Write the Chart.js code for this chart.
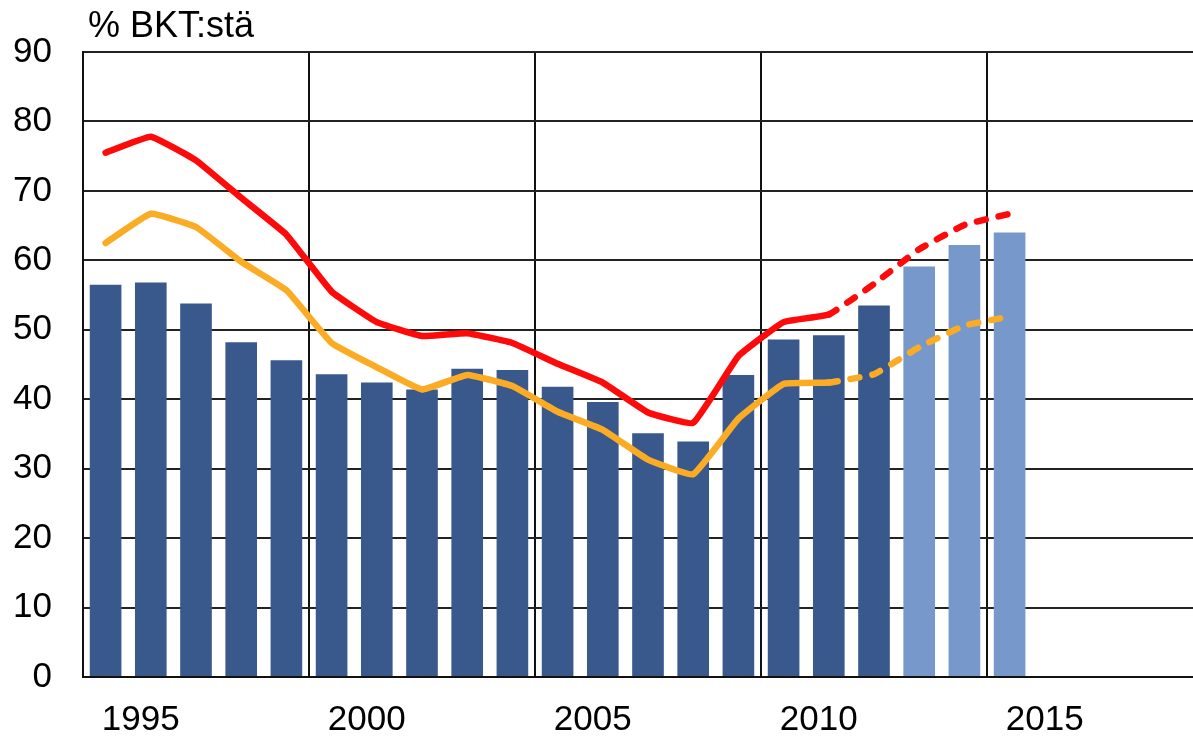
<!DOCTYPE html>
<html>
<head>
<meta charset="utf-8">
<script src="https://cdn.jsdelivr.net/npm/chart.js@4/dist/chart.umd.min.js"></script>
<style>
  html, body { margin: 0; padding: 0; background: #fff; overflow: hidden; }
  #wrap { position: relative; width: 1213px; height: 737px; }
</style>
</head>
<body>
<div id="wrap"><canvas id="chart"></canvas></div>
<script>
// Years on the category axis (plot runs past the right edge of the picture)
const YEARS = [1994, 1995, 1996, 1997, 1998, 1999, 2000, 2001, 2002, 2003, 2004, 2005,
               2006, 2007, 2008, 2009, 2010, 2011, 2012, 2013, 2014, 2015, 2016, 2017, 2018];

// Bars: debt, % of GDP (2012-2014 are forecasts)
const DEBT = [56.5, 56.8, 53.8, 48.2, 45.6, 43.6, 42.4, 41.4, 44.4, 44.2, 41.8, 39.6,
              35.1, 33.9, 43.5, 48.6, 49.2, 53.5, 59.1, 62.2, 64.0, null, null, null, null];

// Red line
const RED_LINE = [75.5, 77.8, 74.4, 69.0, 63.7, 55.5, 51.1, 49.1, 49.5, 48.1, 45.1, 42.4,
                  38.1, 36.6, 46.2, 51.1, 52.2, 56.6, 61.6, 65.1, 66.7, null, null, null, null];

// Orange line
const ORANGE_LINE = [62.5, 66.7, 64.8, 59.8, 55.7, 48.1, 44.6, 41.4, 43.5, 41.9, 38.2, 35.6,
                     31.3, 29.2, 37.2, 42.2, 42.4, 43.6, 47.5, 50.6, 51.9, null, null, null, null];

const FIRST_FORECAST_BAR = 2012;   // light bars from here on
const FIRST_DASHED_FROM = 2010;    // lines turn dashed after this year
const LABEL_YEARS = [1995, 2000, 2005, 2010, 2015];
const Y_TICKS_STEP = 10;

const FONT = { family: 'Liberation Sans, Arial, sans-serif', size: 35 };
const dashAfter = YEARS.indexOf(FIRST_DASHED_FROM);

const dashed = ctx => ctx.p0DataIndex >= dashAfter ? [9, 13] : undefined;

// Title in the top-left corner
const titlePlugin = {
  id: 'cornerTitle',
  afterDraw(chart) {
    const c = chart.ctx;
    c.save();
    c.font = `36px ${FONT.family}`;
    c.fillStyle = '#000';
    c.textBaseline = 'alphabetic';
    c.textAlign = 'left';
    c.fillText('% BKT:stä', 88, 37);
    c.restore();
  }
};

new Chart(document.getElementById('chart'), {
  data: {
    labels: YEARS,
    datasets: [
      {
        type: 'line', label: 'red', data: RED_LINE, order: 1,
        borderColor: '#FF0A0A', borderWidth: 6.5, pointRadius: 0, tension: 0.1,
        borderCapStyle: 'round', borderJoinStyle: 'round',
        segment: { borderDash: dashed }
      },
      {
        type: 'line', label: 'orange', data: ORANGE_LINE, order: 2,
        borderColor: '#FBAC24', borderWidth: 6.5, pointRadius: 0, tension: 0.1,
        borderCapStyle: 'round', borderJoinStyle: 'round',
        segment: { borderDash: dashed }
      },
      {
        type: 'bar', label: 'debt', data: DEBT, order: 3,
        backgroundColor: YEARS.map(y => y >= FIRST_FORECAST_BAR ? '#7698CB' : '#39588C'),
        barPercentage: 0.7, categoryPercentage: 1.0
      }
    ]
  },
  options: {
    responsive: true,
    maintainAspectRatio: false,
    animation: false,
    layout: { padding: { top: 49, left: 0, right: 0, bottom: 0 } },
    plugins: { legend: { display: false }, tooltip: { enabled: false } },
    scales: {
      x: {
        type: 'category',
        offset: true,
        grid: {
          offset: true,
          drawTicks: false,
          lineWidth: 2,
          color: ctx => (ctx.index % 5 === 0 ? '#111' : 'rgba(0,0,0,0)')
        },
        border: { display: true, color: '#111', width: 2 },
        ticks: {
          autoSkip: false, maxRotation: 0, minRotation: 0,
          padding: 22, labelOffset: -10, color: '#000', font: FONT,
          callback: function (v, i) {
            const y = YEARS[i];
            return LABEL_YEARS.includes(y) ? String(y) : '';
          }
        },
        afterFit: s => { s.height = 60; }
      },
      y: {
        min: 0, max: 90,
        grid: { drawTicks: false, lineWidth: 2, color: '#222' },
        border: { display: true, color: '#111', width: 2 },
        ticks: { stepSize: Y_TICKS_STEP, padding: 31, color: '#000', font: FONT },
        afterFit: s => { s.width = 83; }
      }
    }
  },
  plugins: [titlePlugin]
});
</script>
</body>
</html>
